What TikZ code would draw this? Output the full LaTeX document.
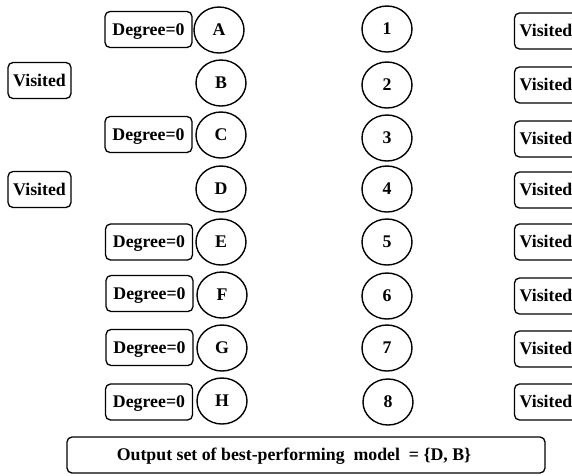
\documentclass[tikz,border=0pt]{standalone}
\usepackage{fontspec}
\setmainfont{Liberation Serif}
\usetikzlibrary{shapes.geometric}
\begin{document}
\begin{tikzpicture}[x=1pt,y=-1pt,
  every node/.style={font=\fontsize{17.8}{20}\selectfont\bfseries, inner sep=0pt,
    text height=11.8pt, text depth=0pt},
  vert/.style={ellipse, draw, line width=1.4pt, minimum width=50pt, minimum height=46pt},
  tag/.style={draw, line width=1.3pt, rounded corners=5pt, minimum height=36pt},
  degbox/.style={tag, minimum width=87pt},
  visbox/.style={tag, minimum width=63pt}]
\useasboundingbox (0,0) rectangle (572,475);
% left column of vertices with their labels
\node[vert] (A) at (219,30) {A};
\node[vert] (B) at (221,83) {B};
\node[vert] (C) at (221,135) {C};
\node[vert] (D) at (221,189) {D};
\node[vert] (E) at (221,242) {E};
\node[vert] (F) at (222,295) {F};
\node[vert] (G) at (222,348) {G};
\node[vert] (H) at (222,401) {H};
\node[degbox] (dA) at (148.5,29.5) {Degree=0};
\node[degbox] (dC) at (148.5,134.5) {Degree=0};
\node[degbox] (dE) at (149,242) {Degree=0};
\node[degbox] (dF) at (149.5,293.5) {Degree=0};
\node[degbox] (dG) at (149.5,347.5) {Degree=0};
\node[degbox] (dH) at (149,402) {Degree=0};
\node[visbox] (vB) at (39.5,80.5) {Visited};
\node[visbox] (vD) at (39.5,189.5) {Visited};
% right column of vertices with their labels
\node[vert] (n1) at (387,29) {1};
\node[vert] (n2) at (387,85) {2};
\node[vert] (n3) at (387,138) {3};
\node[vert] (n4) at (387,189) {4};
\node[vert] (n5) at (387,242) {5};
\node[vert] (n6) at (387,296) {6};
\node[vert] (n7) at (387,348) {7};
\node[vert] (n8) at (388,402) {8};
\node[visbox] (v1) at (546,31) {Visited};
\node[visbox] (v2) at (546,85) {Visited};
\node[visbox] (v3) at (546,139) {Visited};
\node[visbox] (v4) at (546,190) {Visited};
\node[visbox] (v5) at (546,242) {Visited};
\node[visbox] (v6) at (546,296) {Visited};
\node[visbox] (v7) at (546,349) {Visited};
\node[visbox] (v8) at (546,402) {Visited};
% result
\node[tag, minimum width=478pt] (out) at (306,455)
  {Output set of best-performing\ \ model\ \ = \{D, B\}\hspace*{24pt}};
\end{tikzpicture}
\end{document}
